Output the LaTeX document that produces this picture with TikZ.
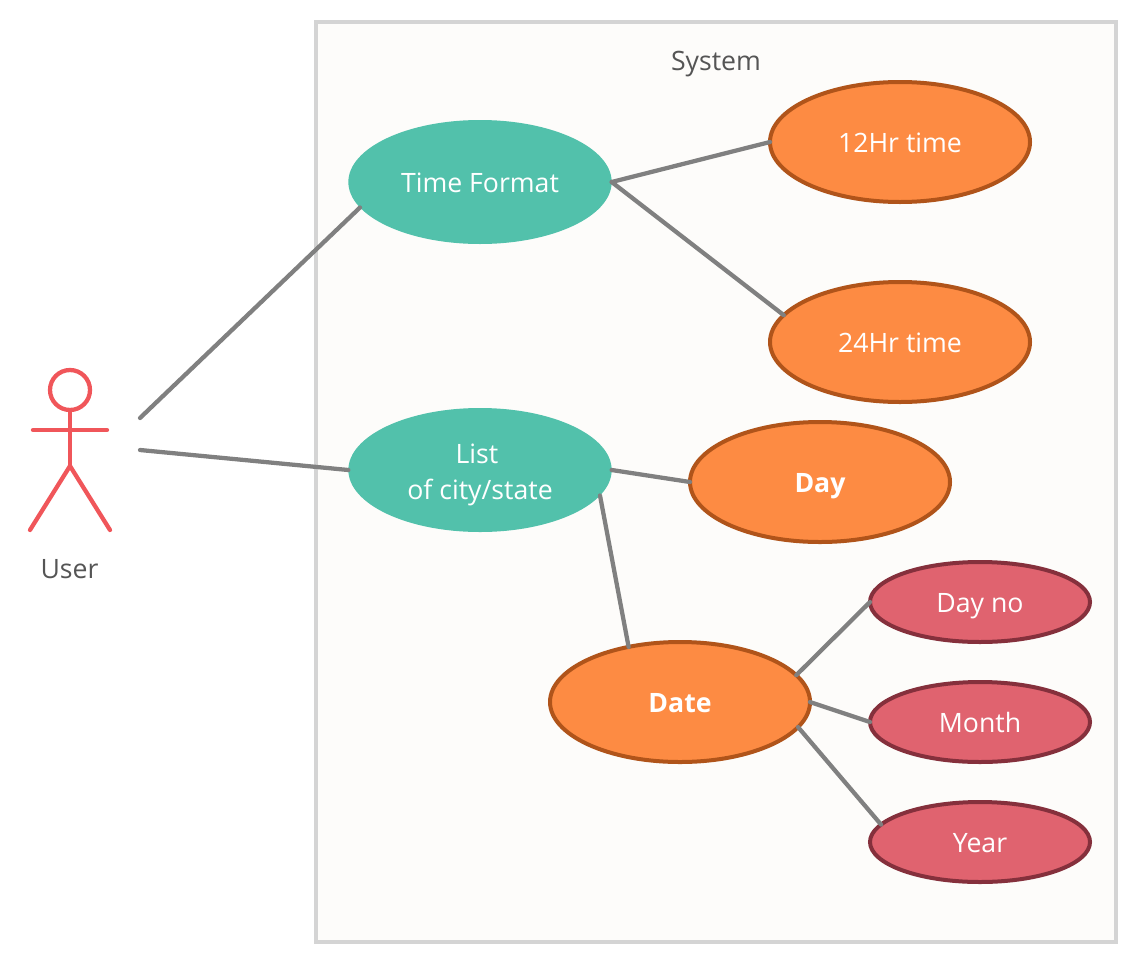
\documentclass[tikz,border=0pt]{standalone}
\usepackage{fontspec}
\setmainfont{Open Sans}
\usetikzlibrary{shapes.geometric}
\definecolor{boxfill}{HTML}{FDFCFA}
\definecolor{boxline}{HTML}{D4D4D4}
\definecolor{teal}{HTML}{52C1AB}
\definecolor{orangefill}{HTML}{FD8B43}
\definecolor{orangeline}{HTML}{B0541A}
\definecolor{redfill}{HTML}{E0636F}
\definecolor{redline}{HTML}{85303C}
\definecolor{actorcol}{HTML}{F0565A}
\definecolor{linkcol}{HTML}{808080}
\definecolor{labelcol}{HTML}{555555}
\tikzset{
  px/.style={x=0.75pt,y=-0.75pt},
  basecase/.style={ellipse,inner sep=0pt,outer sep=0pt,text=white,align=center,text height=16pt,text depth=0.5pt,font=\fontsize{20}{27}\selectfont},
  tealcase/.style={basecase,fill=teal,minimum width=197.5pt,minimum height=93pt},
  orangecase/.style={basecase,fill=orangefill,draw=orangeline,line width=3pt,minimum width=195pt,minimum height=90pt},
  redcase/.style={basecase,fill=redfill,draw=redline,line width=3pt,minimum width=165pt,minimum height=60pt},
  link/.style={draw=linkcol,line width=3.2pt,line cap=round},
  actorline/.style={draw=actorcol,line width=3.2pt,line cap=round},
  caption/.style={text=labelcol,inner sep=0pt,text height=16pt,text depth=0.5pt,font=\fontsize{20}{27}\selectfont}
}
\begin{document}
\begin{tikzpicture}[px]
\useasboundingbox (0,0) rectangle (1148,978);
\fill[white] (0,0) rectangle (1148,978);
\draw[fill=boxfill,draw=boxline,line width=3pt] (316,22) rectangle (1116,942);
\node[caption] (sys) at (716,60.5) {System};
\node[tealcase] (tf) at (480,182) {Time Format};
\node[tealcase,text height=44.5pt,text depth=0.5pt] (list) at (480,470) {List\kern4.5pt\\of city/state};
\node[orangecase] (h12) at (900,142) {12Hr time};
\node[orangecase] (h24) at (900,342) {24Hr time};
\node[orangecase] (day) at (820,482) {\textbf{Day}};
\node[orangecase] (date) at (680,702) {\textbf{Date}};
\node[redcase] (dayno) at (980,602) {Day no};
\node[redcase] (month) at (980,722) {Month};
\node[redcase] (year) at (980,842) {Year};
% actor
\draw[actorline] (70,390) circle[radius=20];
\draw[actorline] (70,410) -- (70,466);
\draw[actorline] (33,430) -- (107,430);
\draw[actorline] (30,530) -- (70,466) -- (110,530);
\node[caption] (user) at (69.5,568) {User};
\coordinate (ua) at (140,418);
\coordinate (ub) at (140,450);
% connectors
\draw[link] (ua) -- (tf.192);
\draw[link] (ub) -- (list.west);
\draw[link] (tf.east) -- (h12.west);
\draw[link] (tf.east) -- (h24.167);
\draw[link] (list.east) -- (day.west);
\draw[link] (list.-12) -- (date.133);
\draw[link] (date.13) -- (dayno.west);
\draw[link] (date.east) -- (month.west);
\draw[link] (date.-12.4) -- (year.170);
\end{tikzpicture}
\end{document}
